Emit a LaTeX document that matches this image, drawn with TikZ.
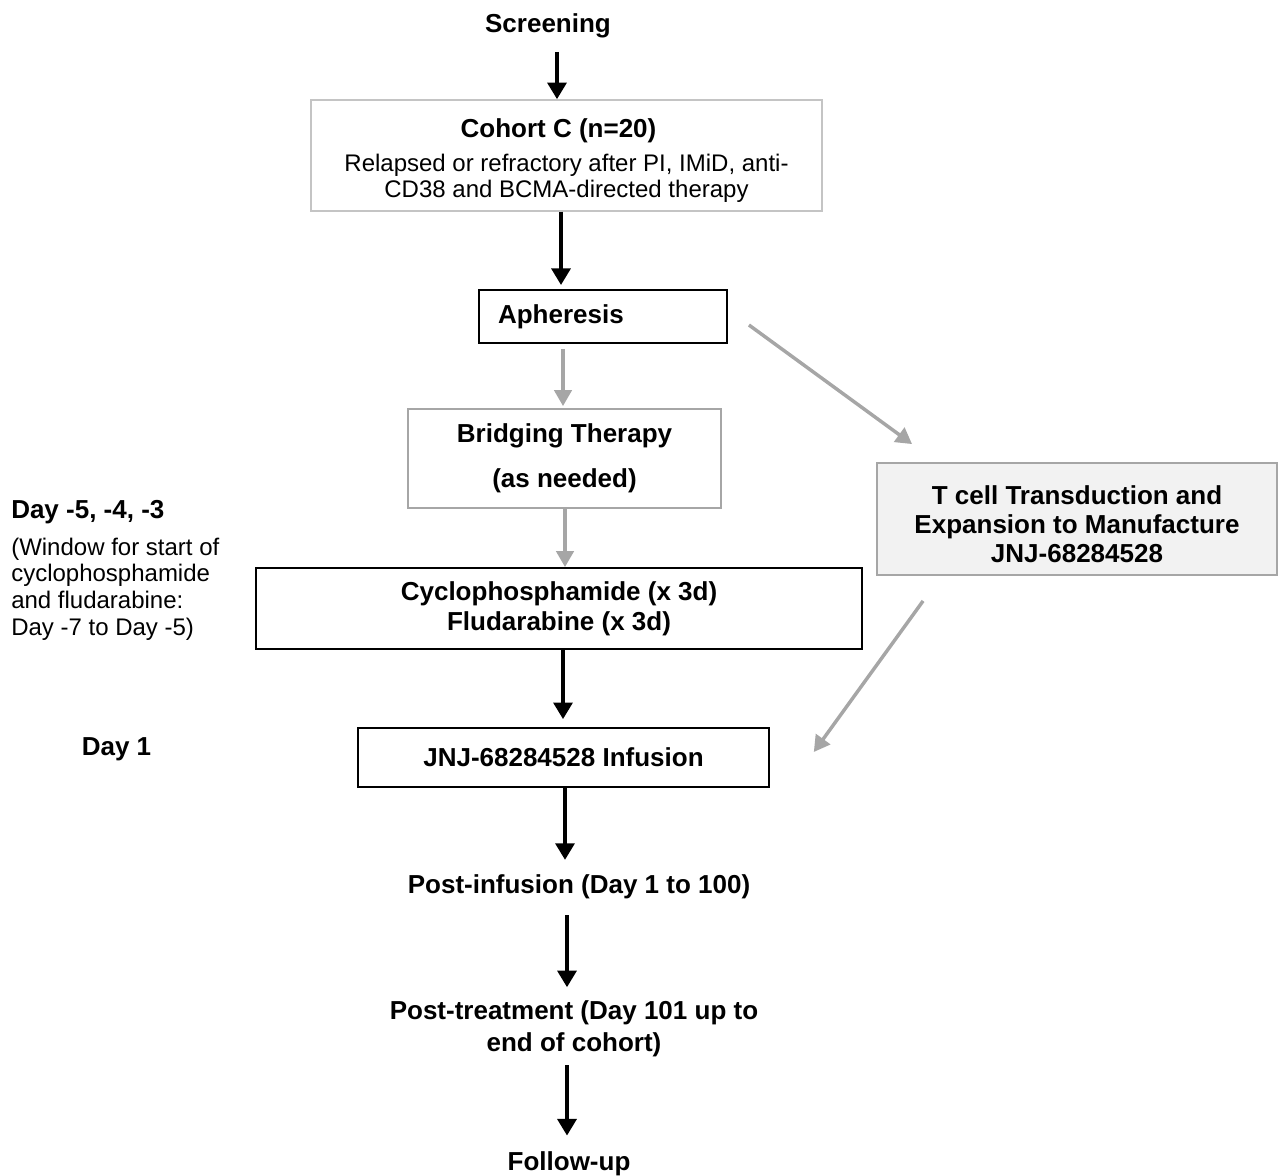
\documentclass[tikz,border=0pt]{standalone}
\usepackage{fontspec}
\setmainfont{Liberation Sans}
\usetikzlibrary{arrows.meta}
\definecolor{gline}{HTML}{A6A6A6}
\definecolor{cline}{HTML}{C4C4C4}
\definecolor{tfill}{HTML}{F2F2F2}
\begin{document}
\begin{tikzpicture}[x=0.75pt,y=-0.75pt,
  bt/.style={font=\fontsize{19.5}{22.5}\selectfont\bfseries, inner sep=0pt, align=center},
  rt/.style={font=\fontsize{18}{20}\selectfont, inner sep=0pt},
  blkbox/.style={draw=black, line width=1.4pt, fill=white, inner sep=0pt, align=center,
    font=\fontsize{19.5}{22.5}\selectfont\bfseries},
  gbox/.style={draw=gline, line width=1.4pt, fill=white, inner sep=0pt, align=center,
    font=\fontsize{19.5}{22.5}\selectfont\bfseries},
  barrow/.style={draw=black, line width=3.2pt, -{Triangle[width=14pt,length=12.5pt]}},
  garrow/.style={draw=gline, line width=2.6pt, -{Triangle[width=13pt,length=12pt]}}
]
\useasboundingbox (0,0) rectangle (1280,1175);

% boxes
\node[draw=cline, line width=1.1pt, fill=white, inner sep=0pt, align=center,
      font=\fontsize{18}{19.5}\selectfont,
      minimum width=383.25pt, minimum height=83.25pt] (cohort) at (566.5,155.5)
  {{\fontsize{19.5}{22.5}\selectfont\bfseries\rule{0pt}{22pt}Cohort C (n=20)\hspace*{12pt}}\\[6pt]
   Relapsed or refractory after PI, IMiD, anti-\\
   CD38 and BCMA-directed therapy};

\node[blkbox, inner xsep=14.25pt, minimum width=186pt, minimum height=39.75pt] (aph) at (603,316.5)
  {\makebox[157.5pt][l]{Apheresis}};

\node[gbox, minimum width=234.75pt, minimum height=74.25pt] (bridge) at (564.5,458.5)
  {Bridging Therapy\\[11.25pt](as needed)};

\node[blkbox, minimum width=454.5pt, minimum height=60.75pt] (cyclo) at (559,608.5)
  {Cyclophosphamide (x 3d)\\Fludarabine (x 3d)};

\node[blkbox, line width=1.2pt, minimum width=308.25pt, minimum height=44.25pt] (inf) at (563.5,757.5)
  {JNJ-68284528 Infusion};

\node[draw=gline, line width=1.4pt, fill=tfill, inner sep=0pt, align=center,
      font=\fontsize{19.5}{22}\selectfont\bfseries,
      minimum width=300pt, minimum height=84pt] (tcell) at (1077,519)
  {\rule{0pt}{22pt}T cell Transduction and\\Expansion to Manufacture\\JNJ-68284528};

% free text
\node[bt] (scr) at (548,26) {Screening};
\node[bt] (pinf) at (579,887) {Post-infusion (Day 1 to 100)};
\node[bt, font=\fontsize{19.5}{24}\selectfont\bfseries] (ptr) at (574,1029)
  {Post-treatment (Day 101 up to\\end of cohort)};
\node[bt] (fu) at (569,1164) {Follow-up};

\node[bt, anchor=west] (day5) at (11,512) {Day -5, -4, -3};
\node[rt, anchor=west, align=left] (win) at (11,589)
  {(Window for start of\\cyclophosphamide\\and fludarabine:\\Day -7 to Day -5)};
\node[bt] (day1) at (116.5,749) {Day 1};

% connectors
\draw[barrow, shorten <=10pt] (557,0 |- scr.south) -- (557,0 |- cohort.north);
\draw[barrow, shorten >=3pt] (561,0 |- cohort.south) -- (561,0 |- aph.north);
\draw[garrow, shorten <=3.75pt, shorten >=1.5pt] (563,0 |- aph.south) -- (563,0 |- bridge.north);
\draw[garrow] (565,0 |- bridge.south) -- (565,0 |- cyclo.north);
\draw[barrow, shorten >=6pt] (563,0 |- cyclo.south) -- (563,0 |- inf.north);
\draw[barrow, shorten >=11pt] (565,0 |- inf.south) -- (565,0 |- pinf.north);
\draw[barrow, shorten <=12pt, shorten >=10pt] (567,0 |- pinf.south) -- (567,0 |- ptr.north);
\draw[barrow, shorten <=6pt, shorten >=12pt] (567,0 |- ptr.south) -- (567,0 |- fu.north);

\draw[garrow] ([shift={(21,8.5)}]aph.east) -- ([shift={(36,-18)}]tcell.north west);
\draw[garrow] ([shift={(47,25)}]tcell.south west) -- ([shift={(44,-5.5)}]inf.east);
\end{tikzpicture}
\end{document}
